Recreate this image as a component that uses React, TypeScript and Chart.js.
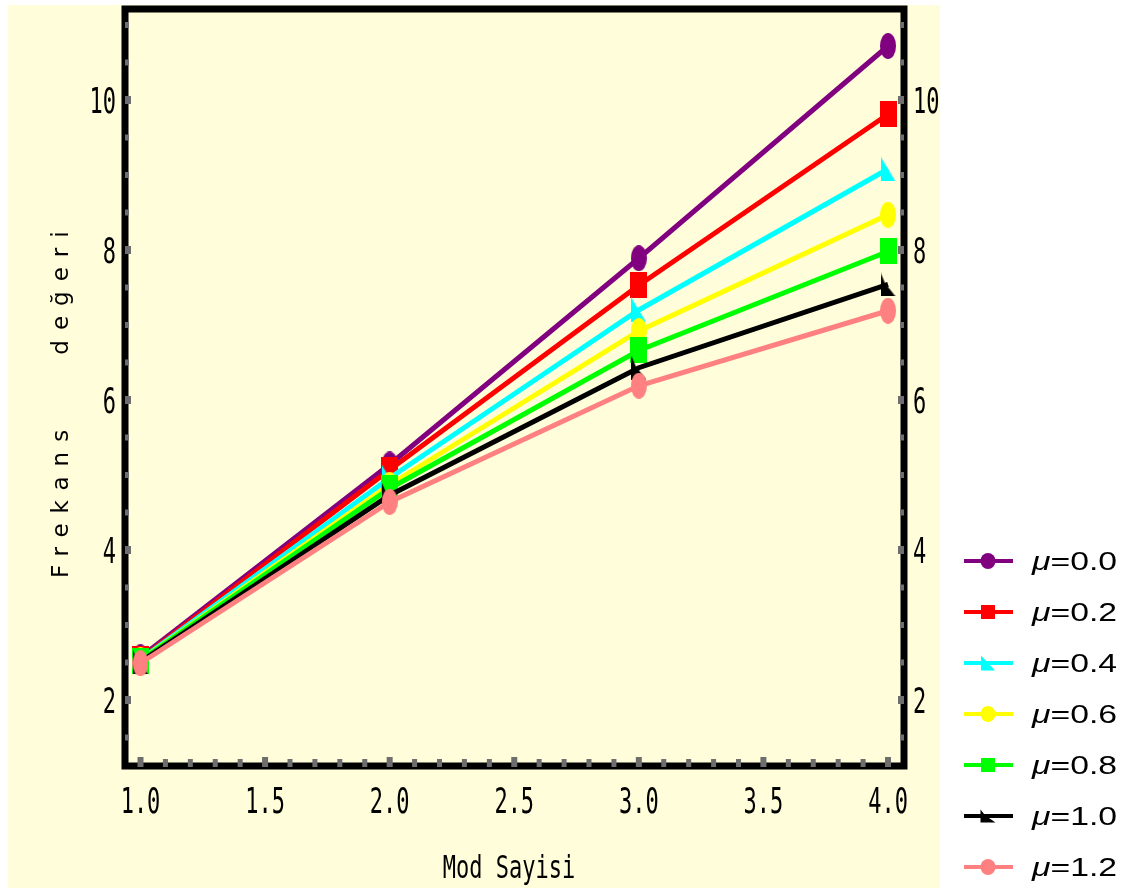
import React, { useEffect, useRef } from 'react';
import { Chart, registerables } from 'chart.js';

Chart.register(...registerables);

// ---- data ----
const modes = [1, 2, 3, 4];
const mu00 = [2.57, 5.14, 7.89, 10.72];
const mu02 = [2.55, 5.07, 7.53, 9.81];
const mu04 = [2.54, 4.96, 7.2, 9.08];
const mu06 = [2.53, 4.87, 6.92, 8.47];
const mu08 = [2.525, 4.82, 6.66, 7.98];
const mu10 = [2.51, 4.73, 6.43, 7.54];
const mu12 = [2.49, 4.64, 6.19, 7.19];
const seriesValues = [mu00, mu02, mu04, mu06, mu08, mu10, mu12];
const seriesLabels = ['0.0', '0.2', '0.4', '0.6', '0.8', '1.0', '1.2'];
const seriesColors = ['#800080', '#FF0000', '#00FFFF', '#FFFF00', '#00FF00', '#000000', '#FF8080'];
const seriesMarkers = ['ellipse', 'rect', 'tri', 'ellipse', 'rect', 'arrow', 'ellipse'];
const xTickLabels = ['1.0', '1.5', '2.0', '2.5', '3.0', '3.5', '4.0'];
const yTickLabels = ['2', '4', '6', '8', '10'];
const xTitle = 'Mod Sayisi';
const yTitleWords = ['Frekans', 'değeri'];

const BG = '#FFFDDA';
const TICK_GRAY = '#6E6E6E';

function markerPath(ctx: CanvasRenderingContext2D, kind: string, w: number, h: number) {
  ctx.beginPath();
  if (kind === 'ellipse') {
    ctx.ellipse(0, 0, w / 2, h / 2, 0, 0, Math.PI * 2);
  } else if (kind === 'rect') {
    ctx.rect(-w / 2, -h / 2, w, h);
  } else if (kind === 'tri') {
    ctx.moveTo(-w / 2, -h / 2);
    ctx.lineTo(w / 2, h / 2);
    ctx.lineTo(-w / 2, h / 2);
    ctx.closePath();
  } else {
    ctx.moveTo(-w / 2, -h / 2);
    ctx.lineTo(-w / 2 + w * 0.3, -h * 0.05);
    ctx.lineTo(w / 2, h / 2);
    ctx.lineTo(-w / 2, h / 2);
    ctx.closePath();
  }
}

function markerSize(kind: string, legend: boolean): [number, number] {
  if (legend) {
    if (kind === 'ellipse') return [15, 16];
    if (kind === 'rect') return [14, 14];
    if (kind === 'tri') return [14, 15];
    return [15, 13];
  }
  if (kind === 'ellipse') return [16, 26];
  if (kind === 'rect') return [17, 26];
  if (kind === 'tri') return [15, 25];
  return [15, 24];
}

function makeMarker(kind: string, color: string): HTMLCanvasElement {
  const [w, h] = markerSize(kind, false);
  const c = document.createElement('canvas');
  c.width = w;
  c.height = h;
  const ctx = c.getContext('2d')!;
  ctx.translate(w / 2, h / 2);
  markerPath(ctx, kind, w, h);
  ctx.fillStyle = color;
  ctx.fill();
  return c;
}

const decorPlugin = {
  id: 'decor',
  beforeDraw(chart: any) {
    const ctx = chart.ctx;
    ctx.save();
    ctx.fillStyle = BG;
    ctx.fillRect(8, 5, 932, 883);
    ctx.restore();
  },
  beforeDatasetsDraw(chart: any) {
    const ctx: CanvasRenderingContext2D = chart.ctx;
    const { left, right, top, bottom } = chart.chartArea;
    const xs = chart.scales.x;
    const ys = chart.scales.y;
    ctx.save();
    // frame
    ctx.strokeStyle = '#000';
    ctx.lineWidth = 7;
    ctx.lineJoin = 'miter';
    ctx.strokeRect(left, top, right - left, bottom - top);
    // minor/major ticks
    ctx.fillStyle = TICK_GRAY;
    const yMajor = yTickLabels.map((s) => parseFloat(s));
    for (let v = 1.5; v <= 11.01; v += 0.5) {
      const py = ys.getPixelForValue(v);
      const major = yMajor.some((m) => Math.abs(m - v) < 1e-6);
      const tw = major ? 6 : 4;
      const th = major ? 8 : 6;
      ctx.fillRect(left, py - th / 2, tw, th);
      ctx.fillRect(right - tw, py - th / 2, tw, th);
    }
    const xMajor = xTickLabels.map((s) => parseFloat(s));
    for (let i = 0; i <= 30; i++) {
      const v = 1 + i * 0.1;
      const px = xs.getPixelForValue(v);
      const major = xMajor.some((m) => Math.abs(m - v) < 1e-6);
      const tw = major ? 6 : 5;
      const th = major ? 10 : 8;
      ctx.fillRect(px - tw / 2, bottom - th + 1, tw, th);
    }
    // tick labels
    ctx.fillStyle = '#000';
    ctx.font = '22px "DejaVu Sans Mono"';
    ctx.textBaseline = 'alphabetic';
    const sy = 1.59;
    yTickLabels.forEach((lab) => {
      const py = ys.getPixelForValue(parseFloat(lab));
      ctx.save();
      ctx.translate(116, py + 13);
      ctx.scale(1, sy);
      ctx.textAlign = 'right';
      ctx.fillText(lab, 0, 0);
      ctx.restore();
      ctx.save();
      ctx.translate(913, py + 13);
      ctx.scale(1, sy);
      ctx.textAlign = 'left';
      ctx.fillText(lab, 0, 0);
      ctx.restore();
    });
    xTickLabels.forEach((lab) => {
      const px = xs.getPixelForValue(parseFloat(lab));
      ctx.save();
      ctx.translate(px, 813);
      ctx.scale(1, sy);
      ctx.textAlign = 'center';
      ctx.fillText(lab, 0, 0);
      ctx.restore();
    });
    // x title
    ctx.save();
    ctx.translate(509, 878);
    ctx.scale(1, 1.43);
    ctx.textAlign = 'center';
    ctx.fillText(xTitle, 0, 0);
    ctx.restore();
    // y title (rotated, letter-spaced)
    const centers = [504, 293];
    yTitleWords.forEach((word, i) => {
      ctx.save();
      ctx.translate(68, centers[i]);
      ctx.rotate(-Math.PI / 2);
      ctx.font = '23px "DejaVu Sans"';
      (ctx as any).letterSpacing = '10px';
      ctx.textAlign = 'left';
      const w = ctx.measureText(word).width - 10;
      ctx.fillText(word, -w / 2, 0);
      ctx.restore();
    });
    ctx.restore();
  },
  afterDraw(chart: any) {
    const ctx: CanvasRenderingContext2D = chart.ctx;
    ctx.save();
    seriesLabels.forEach((lab, i) => {
      const cy = 561 + i * 51;
      const color = seriesColors[i];
      ctx.strokeStyle = color;
      ctx.lineWidth = 4;
      ctx.beginPath();
      ctx.moveTo(964, cy);
      ctx.lineTo(1013, cy);
      ctx.stroke();
      const kind = seriesMarkers[i];
      const [w, h] = markerSize(kind, true);
      ctx.save();
      ctx.translate(988, cy);
      markerPath(ctx, kind, w, h);
      ctx.fillStyle = color;
      ctx.fill();
      ctx.restore();
      ctx.save();
      ctx.translate(1032, cy + 9);
      ctx.scale(1.35, 1);
      ctx.fillStyle = '#000';
      ctx.textAlign = 'left';
      ctx.textBaseline = 'alphabetic';
      ctx.font = 'italic 25px "Liberation Sans"';
      ctx.fillText('μ', 0, 0);
      const mw = ctx.measureText('μ').width;
      ctx.font = '25px "Liberation Sans"';
      ctx.fillText('=' + lab, mw, 0);
      ctx.restore();
    });
    ctx.restore();
  },
};

export default function App() {
  const ref = useRef<HTMLCanvasElement | null>(null);
  useEffect(() => {
    if (!ref.current) return;
    const datasets = seriesValues.map((vals, i) => ({
      label: 'μ=' + seriesLabels[i],
      data: modes.map((x, j) => ({ x, y: vals[j] })),
      borderColor: seriesColors[i],
      backgroundColor: seriesColors[i],
      borderWidth: 5,
      pointStyle: makeMarker(seriesMarkers[i], seriesColors[i]) as any,
      pointRadius: 10,
      tension: 0,
      fill: false,
      clip: false as any,
      order: seriesValues.length - 1 - i,
    }));
    const chart = new Chart(ref.current, {
      type: 'line',
      data: { datasets },
      options: {
        animation: false,
        responsive: false,
        events: [],
        layout: { autoPadding: false, padding: { top: 9, right: 225, left: 0, bottom: 0 } },
        plugins: { legend: { display: false }, tooltip: { enabled: false } },
        scales: {
          x: {
            type: 'linear',
            min: 0.9378,
            max: 4.0642,
            grid: { display: false },
            border: { display: false },
            ticks: { display: false },
            afterFit: (s: any) => {
              s.height = 122;
            },
          },
          y: {
            type: 'linear',
            min: 1.12,
            max: 11.213,
            grid: { display: false },
            border: { display: false },
            ticks: { display: false },
            afterFit: (s: any) => {
              s.width = 125;
            },
          },
        },
      },
      plugins: [decorPlugin],
    });
    return () => chart.destroy();
  }, []);
  return (
    <div style={{ position: 'absolute', left: 0, top: 0, width: 1129, height: 888 }}>
      <canvas ref={ref} width={1129} height={888} style={{ display: 'block' }} />
    </div>
  );
}
